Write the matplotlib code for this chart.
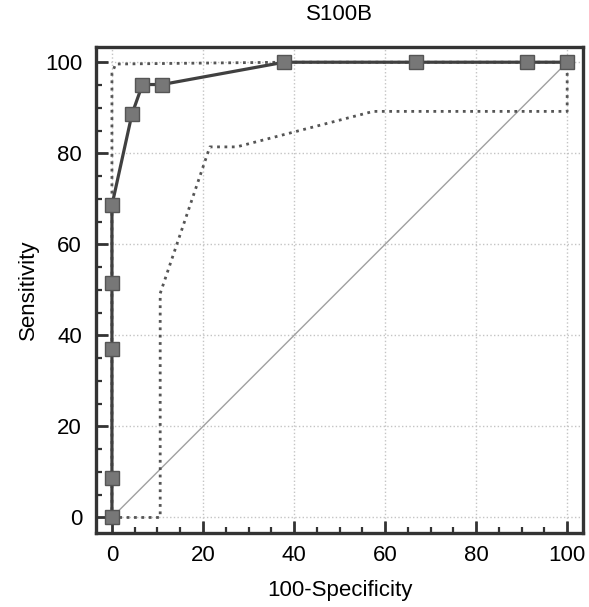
import numpy as np
import matplotlib
matplotlib.use('Agg')
import matplotlib.pyplot as plt
from matplotlib.ticker import MultipleLocator

plt.rcParams['font.family'] = ['Liberation Sans', 'DejaVu Sans']

# ROC curve points (100-Specificity, Sensitivity)
fpr = [0, 0, 0, 0, 0, 4.4, 6.7, 11.0, 37.8, 66.7, 91.1, 100]
tpr = [0, 8.6, 37.1, 51.4, 68.6, 88.6, 95.1, 95.1, 100, 100, 100, 100]

# upper confidence bound
upper_x = [0, 0, 0.8, 37.8, 100]
upper_y = [0, 97.5, 99.6, 100, 100]

# lower confidence bound
lower_x = [0, 10.6, 10.6, 21.5, 27.4, 57.4, 100, 100]
lower_y = [0, 0, 49.2, 81.4, 81.4, 89.2, 89.2, 100]

fig = plt.figure(figsize=(5.89, 6.07), dpi=100)
ax = fig.add_axes([0.163, 0.122, 0.827, 0.801])

ax.grid(True, color='#c4c4c4', linestyle=':', linewidth=1)
ax.set_axisbelow(True)

ax.plot([0, 100], [0, 100], color='#a0a0a0', linewidth=1, zorder=2)
ax.plot(upper_x, upper_y, color='#555555', linestyle=':', linewidth=2, zorder=3)
ax.plot(lower_x, lower_y, color='#555555', linestyle=':', linewidth=2, zorder=3)
ax.plot(fpr, tpr, color='#404040', linewidth=2.3, marker='s', markersize=9.5,
        markerfacecolor='#777777', markeredgecolor='#555555', markeredgewidth=1, zorder=4)

ax.set_xlim(-3.5, 103.5)
ax.set_ylim(-3.4, 103.4)
ax.xaxis.set_major_locator(MultipleLocator(20))
ax.yaxis.set_major_locator(MultipleLocator(20))
ax.xaxis.set_minor_locator(MultipleLocator(5))
ax.yaxis.set_minor_locator(MultipleLocator(5))
ax.tick_params(which='major', direction='in', length=8.5, width=2, color='#333333',
               labelsize=16, pad=9)
ax.tick_params(which='minor', direction='in', length=4.5, width=1.6, color='#333333')
ax.tick_params(axis='y', pad=10)

for s in ax.spines.values():
    s.set_linewidth(2.4)
    s.set_color('#333333')

ax.set_title('S100B', fontsize=16, pad=19)
ax.set_xlabel('100-Specificity', fontsize=16, labelpad=10)
ax.set_ylabel('Sensitivity', fontsize=16, labelpad=4)

plt.savefig('out.png', dpi=100)
